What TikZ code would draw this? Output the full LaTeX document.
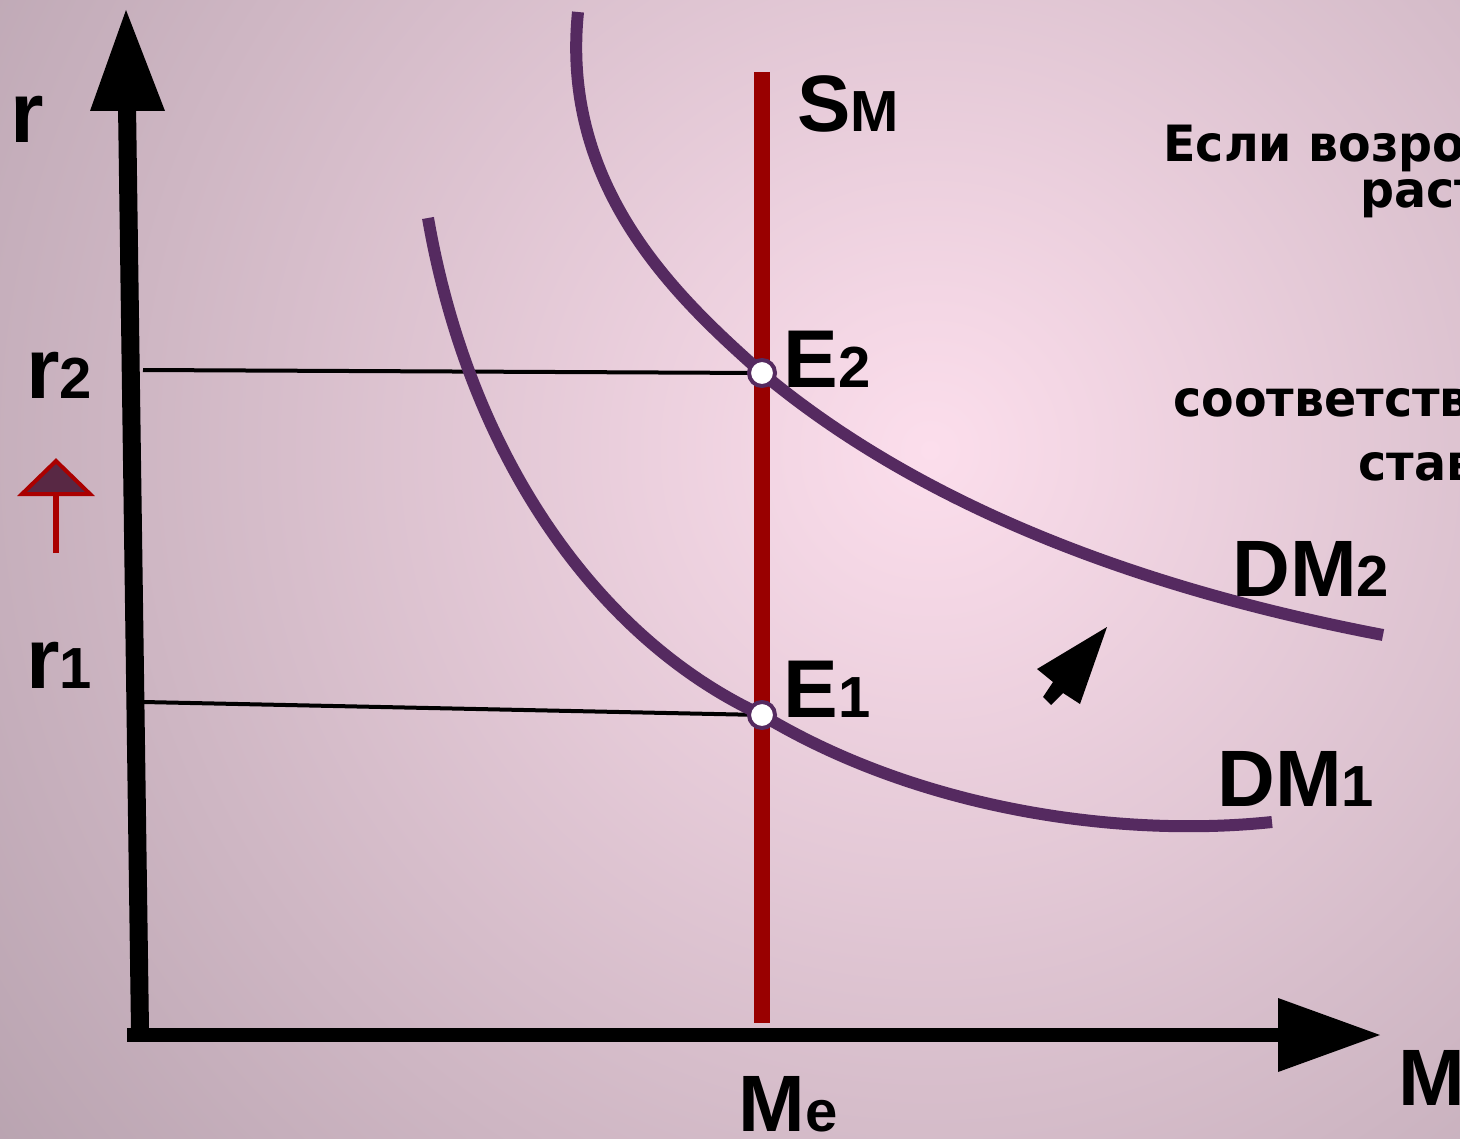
\documentclass[tikz,border=0pt]{standalone}
\usepackage{fontspec}
\setmainfont{Liberation Sans}
\newfontfamily\notefont[FakeStretch=0.95]{DejaVu Sans}
\usetikzlibrary{positioning}
\definecolor{bgpink}{RGB}{252,222,236}
\definecolor{bgmauve}{RGB}{160,142,154}
\definecolor{supplyred}{RGB}{153,0,0}
\definecolor{curvepurple}{RGB}{85,42,96}
\definecolor{hintred}{RGB}{170,0,0}
\definecolor{hintfill}{RGB}{88,40,68}
\newcommand{\lowidx}[1]{{\fontsize{29}{29}\selectfont #1}}

\begin{document}
\begin{tikzpicture}[
    x=0.5pt, y=-0.5pt,
    axisline/.style={line width=8pt, black},
    supplyline/.style={line width=8pt, supplyred},
    demandcurve/.style={line width=6pt, curvepurple},
    guide/.style={line width=2pt, black},
    eqpoint/.style={circle, draw=curvepurple, fill=white, line width=2pt, minimum size=13pt, inner sep=0pt},
    biglabel/.style={font=\bfseries\fontsize{40}{40}\selectfont, anchor=base west, inner sep=0pt},
    rlabel/.style={font=\bfseries\fontsize{43}{43}\selectfont, anchor=base west, inner sep=0pt},
    notetext/.style={font=\notefont\bfseries\fontsize{25}{25}\selectfont, anchor=base west, inner sep=0pt}
]
\useasboundingbox (0,0) rectangle (1460,1139);
\clip (0,0) rectangle (1460,1139);

% Background
\shade[inner color=bgpink, outer color=bgmauve] (930,450) circle (1600);

% Guide lines from the axis to the equilibria
\coordinate (E2) at (762,373);
\coordinate (E1) at (762,715);
\coordinate (g2) at (143,370);
\coordinate (g1) at (143,702);
\draw[guide] (g2) -- (E2);
\draw[guide] (g1) -- (E1);

% Money supply
\coordinate (stop) at (762,72);
\coordinate (sbot) at (762,1023);
\draw[supplyline] (stop) -- (sbot);

% Money demand curves
\draw[demandcurve] (428,218) .. controls (470,460) and (600,640) .. (E1)
    .. controls (920,810) and (1120,838) .. (1272,822);
\draw[demandcurve] (578,12) .. controls (560,190) and (680,300) .. (E2)
    .. controls (950,530) and (1200,600) .. (1383,635);

% Equilibrium points
\node[eqpoint] (e2pt) at (E2) {};
\node[eqpoint] (e1pt) at (E1) {};

% Axes
\draw[axisline, line width=9pt] (140,1030) -- (127,105);
\fill (126,10) -- (165,111) -- (90,111) -- cycle;
\draw[axisline, line width=7pt] (127,1035) -- (1285,1035);
\fill (1380,1035) -- (1278,1072) -- (1278,998) -- cycle;

% Labels
\node[rlabel] (rname) at (10,143) {r};
\node[rlabel] (rtwo) at (26,398) {r\lowidx{2}};
\node[rlabel] (rone) at (26,688) {r\lowidx{1}};
\node[biglabel] (sname) at (797,132) {S\lowidx{М}};
\node[biglabel, font=\bfseries\fontsize{41}{41}\selectfont] (etwo) at (783,387) {E\lowidx{2}};
\node[biglabel, font=\bfseries\fontsize{41}{41}\selectfont] (eone) at (783,717) {E\lowidx{1}};
\node[biglabel] (dmtwo) at (1232,596) {DM\lowidx{2}};
\node[biglabel] (dmone) at (1217,806) {DM\lowidx{1}};
\node[biglabel] (mename) at (738,1131) {M\lowidx{e}};
\node[biglabel] (mname) at (1398,1105) {M};

% Note on the right (cut off by the slide edge)
\node[notetext] (note1) at (1163,162) {Если возро};
\node[notetext] (note2) at (1360,207) {раст};
\node[notetext] (note3) at (1173,416) {соответств};
\node[notetext] (note4) at (1358,480) {став};

% Small arrow: r rises
\draw[hintred, line width=3pt] (56,553) -- (56,492);
\filldraw[fill=hintfill, draw=hintred, line width=2pt, line join=miter] (56,461) -- (90,494) -- (22,494) -- cycle;

% Shift of demand
\fill (1107,627) -- (1037,669) -- (1053,682) -- (1043,697) -- (1051,705) -- (1063,693) -- (1080,704) -- cycle;

\end{tikzpicture}
\end{document}
